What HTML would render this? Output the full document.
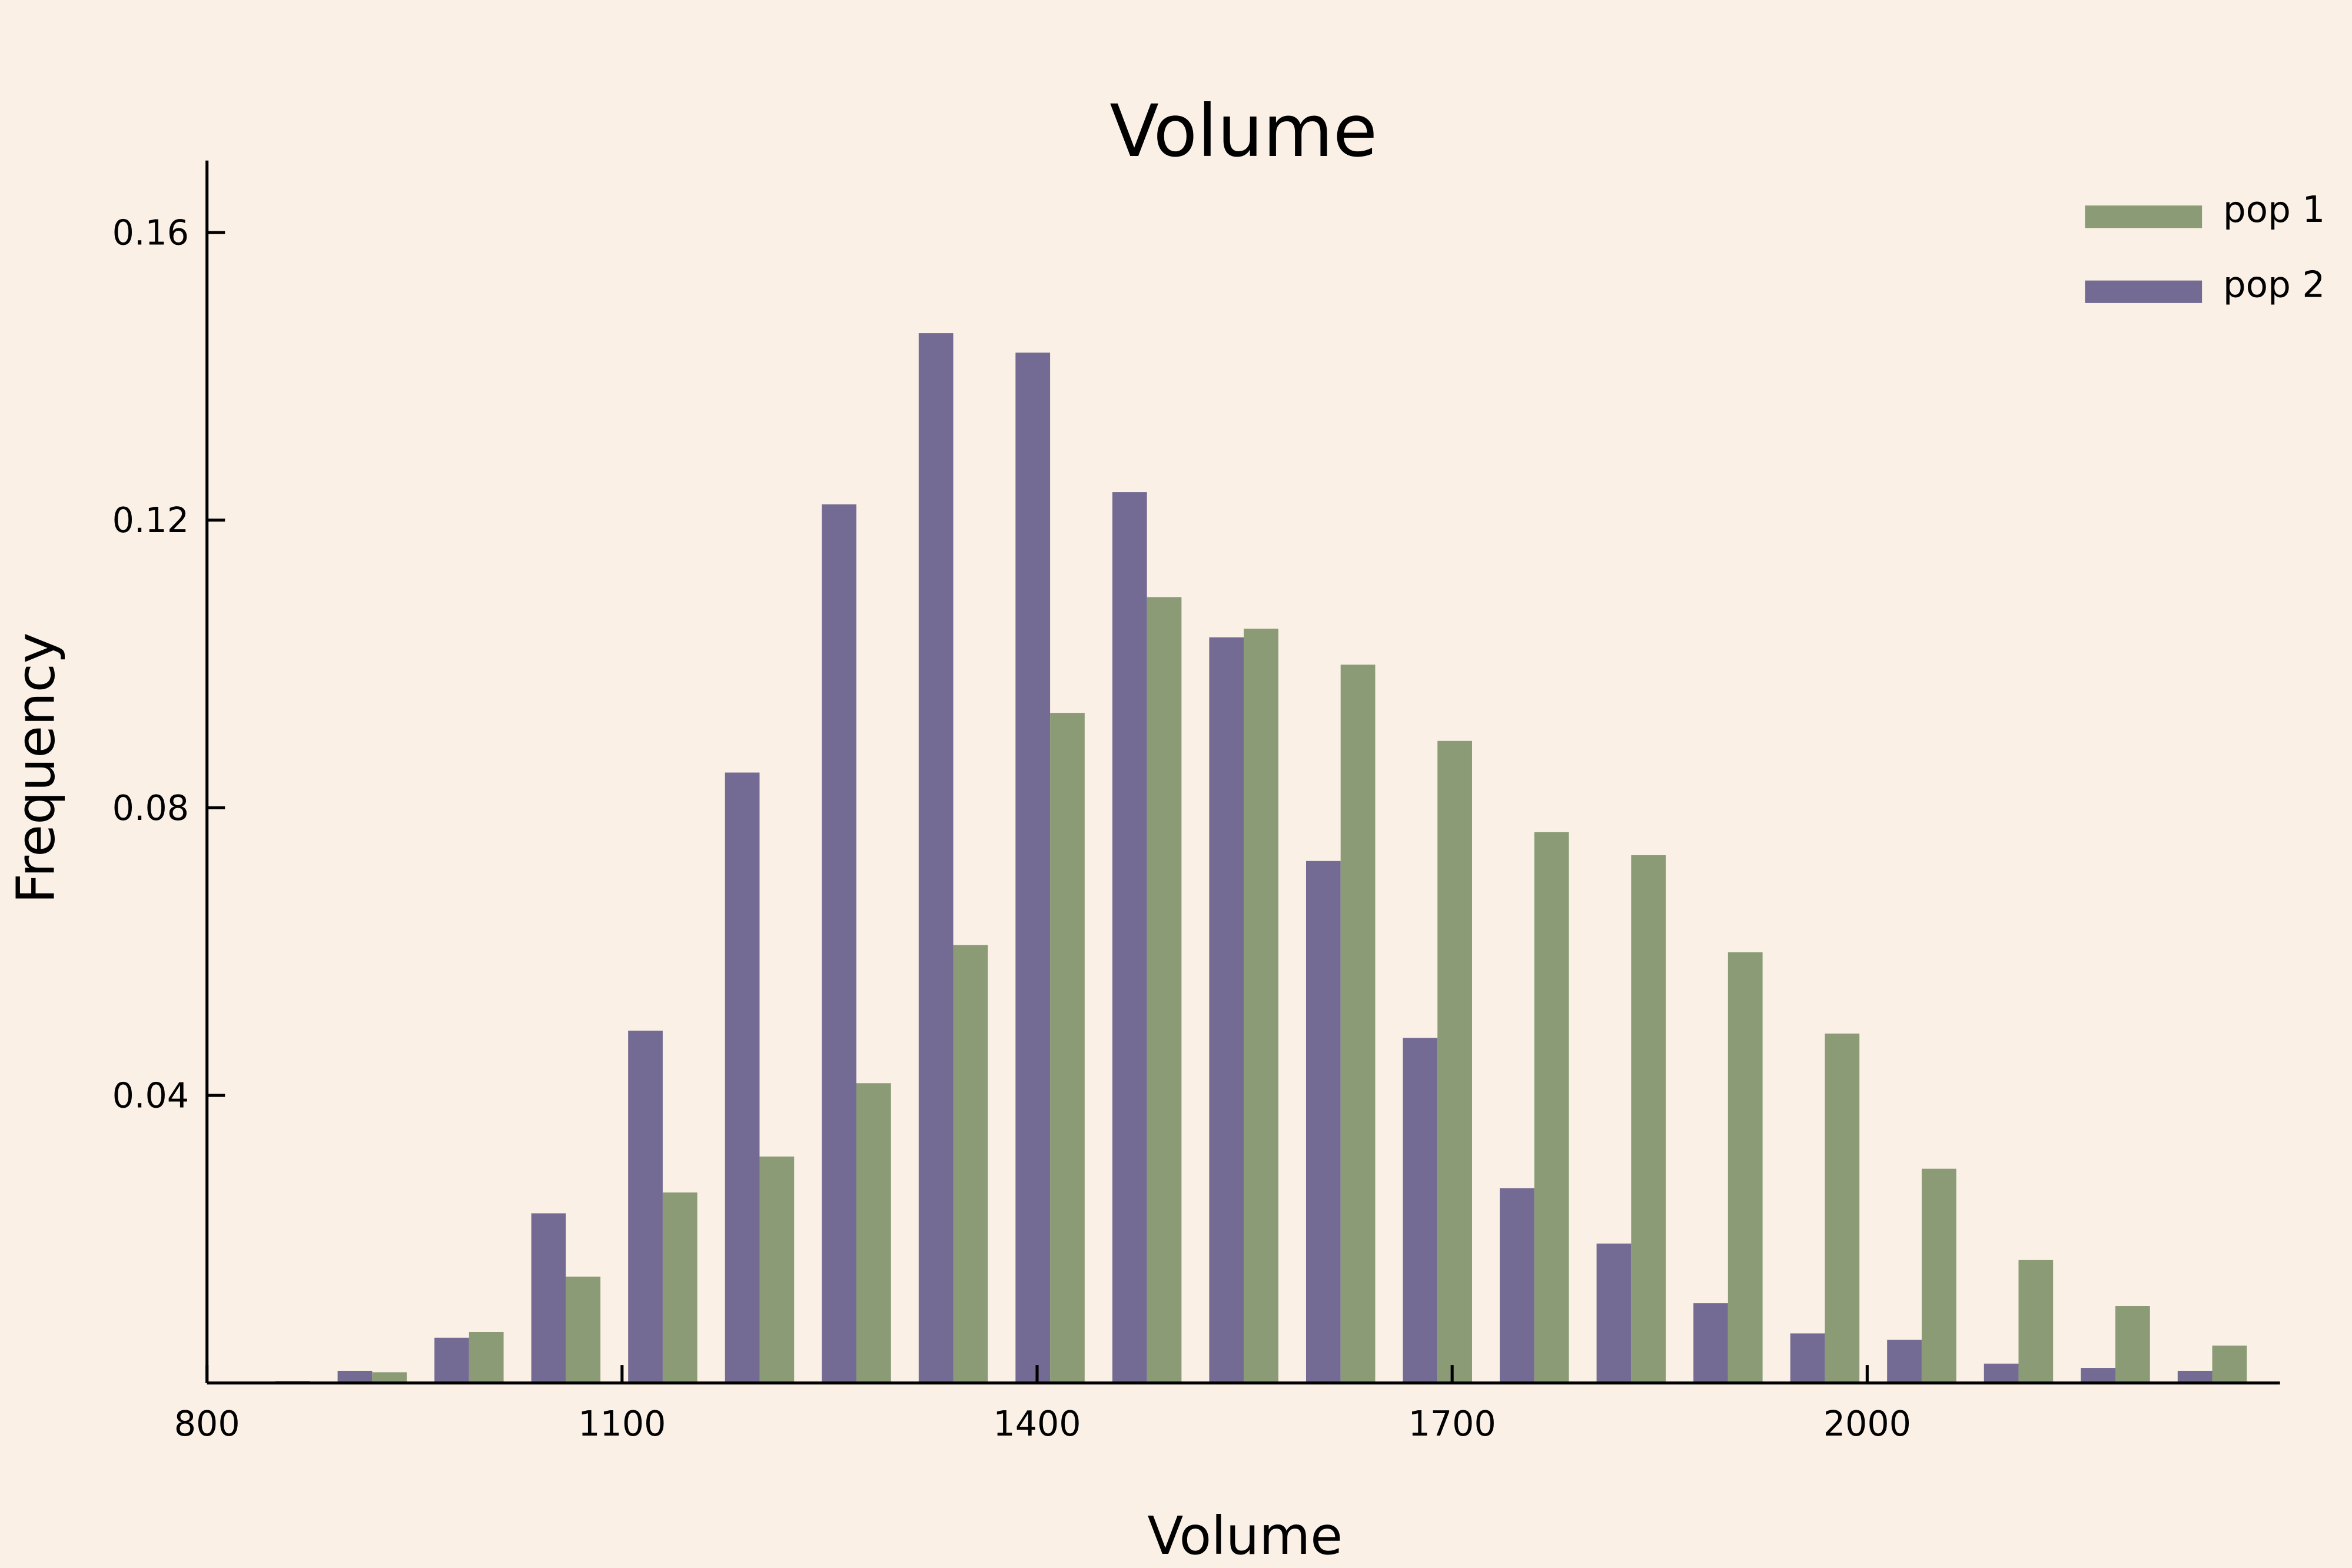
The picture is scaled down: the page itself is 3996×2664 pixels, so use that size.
<!DOCTYPE html>
<html><head><meta charset="utf-8"><style>
html,body{margin:0;padding:0;background:#faf0e6;}
svg{display:block;font-family:"DejaVu Sans","Liberation Sans",sans-serif;}
</style></head><body>
<svg id="chart" width="3996" height="2664" viewBox="0 0 1568 1045.3" xmlns="http://www.w3.org/2000/svg">
<rect x="0" y="0" width="1568" height="1046" fill="#faf0e6"/>
<text x="829" y="104" font-size="48" text-anchor="middle" fill="#000">Volume</text>
<text x="830" y="1036" font-size="35" text-anchor="middle" fill="#000">Volume</text>
<text transform="translate(36,512) rotate(-90)" font-size="35" text-anchor="middle" fill="#000">Frequency</text>
<g id="bars"></g>
<g id="axes"></g>
<g>
<rect x="1390" y="137" width="78" height="15" fill="#8a9b75"/>
<text x="1482" y="148" font-size="24" fill="#000">pop 1</text>
<rect x="1390" y="187" width="78" height="15" fill="#736b93"/>
<text x="1482" y="198" font-size="24" fill="#000">pop 2</text>
</g>
</svg>
<script>
const binStart = 824.4;
const binWidth = 70;
const pop1 = [0.0003,0.0015,0.0071,0.0148,0.0265,0.0315,0.0417,0.0609,0.0932,0.1093,0.1049,0.0999,0.0893,0.0766,0.0734,0.0599,0.0486,0.0298,0.0171,0.0107,0.0052];
const pop2 = [0,0.0017,0.0063,0.0236,0.0490,0.0849,0.1222,0.1460,0.1433,0.1239,0.1037,0.0726,0.0480,0.0271,0.0194,0.0111,0.0069,0.0060,0.0027,0.0021,0.0017];
const xTicks = [800,1100,1400,1700,2000];
const yTicks = [0.04,0.08,0.12,0.16];
const yTickLabels = ["0.04","0.08","0.12","0.16"];

const NS="http://www.w3.org/2000/svg";
const X0=138, Y0=922;
function xs(v){return X0+(v-800)*276.7/300;}
function ys(v){return Y0-v*4793.75;}
const bars=document.getElementById('bars');
const axes=document.getElementById('axes');
function mk(tag,attrs,parent){const e=document.createElementNS(NS,tag);for(const k in attrs)e.setAttribute(k,attrs[k]);parent.appendChild(e);return e;}
const barW=binWidth*0.357;
for(let i=0;i<pop2.length;i++){
  const l=binStart+i*binWidth;
  const r2=mk('rect',{x:xs(l),y:ys(pop2[i]),width:xs(l+barW)-xs(l),height:Y0-ys(pop2[i]),fill:'#736b93'},bars);
  
  
  const r1=mk('rect',{x:xs(l+barW),y:ys(pop1[i]),width:xs(l+2*barW)-xs(l+barW),height:Y0-ys(pop1[i]),fill:'#8a9b75'},bars);
  
  
}
const xa=mk('line',{x1:X0,y1:Y0,x2:1520,y2:Y0,stroke:'#000','stroke-width':2},axes);


const ya=mk('line',{x1:X0,y1:107,x2:X0,y2:Y0,stroke:'#000','stroke-width':2},axes);


xTicks.forEach(t=>{
  const x=xs(t);
  const tk=mk('line',{x1:x,y1:Y0,x2:x,y2:Y0-12,stroke:'#000','stroke-width':2},axes);
  
  
  const tx=mk('text',{x:x,y:957,'font-size':23,'text-anchor':'middle',fill:'#000'},axes);
  tx.textContent=t;
  
  
});
yTicks.forEach((t,i)=>{
  const y=ys(t);
  const tk=mk('line',{x1:X0,y1:y,x2:X0+12,y2:y,stroke:'#000','stroke-width':2},axes);
  
  
  const tx=mk('text',{x:126,y:y+8,'font-size':23,'text-anchor':'end',fill:'#000'},axes);
  tx.textContent=yTickLabels[i];
  
  
});
</script>
</body></html>
